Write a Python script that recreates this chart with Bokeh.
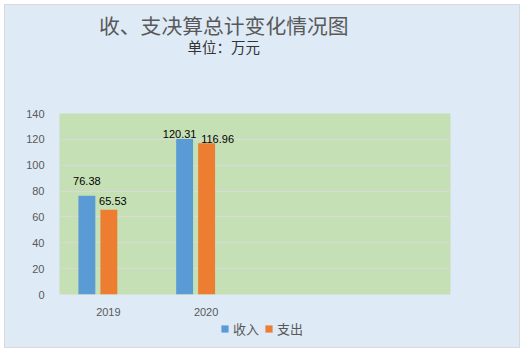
from bokeh.plotting import figure
from bokeh.layouts import column
from bokeh.models import (ColumnDataSource, LabelSet, Label, Legend, LegendItem,
                          FixedTicker, Range1d)
from bokeh.transform import dodge
from bokeh.core.properties import value
from bokeh.embed import file_html
from bokeh.resources import INLINE

# ---- data ----
years = ["2019", "2020"]
income = [76.38, 120.31]
expense = [65.53, 116.96]
series_names = ["收入", "支出"]
title_text = "收、支决算总计变化情况图"
subtitle_text = "单位：万元"
y_ticks = [0, 20, 40, 60, 80, 100, 120, 140]
n_slots = 4  # axis has 4 category slots, last two empty

# label nudges (px), as placed in the original
inc_dx = [0, -5]
inc_dy = [11, 1]
exp_dx = [4, 11]
exp_dy = [5, 0]

BLUE = "#5B9BD5"
ORANGE = "#ED7D31"
BG = "#DEEAF6"
PLOT_BG = "#C5E0B4"
GRID = "#D9D9D9"
TXT = "#595959"
CJK = "Noto Sans CJK SC"

W = 514
H_TOP, H_MAIN, H_LEG = 60, 253, 29


def strip(fig):
    fig.border_fill_color = BG
    fig.background_fill_color = BG
    fig.outline_line_color = None
    fig.grid.visible = False
    return fig


# ---- title strip ----
t = strip(figure(width=W, height=H_TOP, output_backend="svg", toolbar_location=None,
                 x_range=Range1d(0, W), y_range=Range1d(0, H_TOP),
                 x_axis_location=None, y_axis_location=None, min_border=0))
t.add_layout(Label(x=216, y=41, text=title_text, text_align="center",
                   text_baseline="middle", text_font=CJK, text_font_size="20.8px",
                   text_color=TXT))
t.add_layout(Label(x=216, y=19, text=subtitle_text, text_align="center",
                   text_baseline="middle", text_font=CJK, text_font_size="14.5px",
                   text_color="#333333"))

# ---- main chart ----
idx = list(range(len(years)))
src = ColumnDataSource(dict(
    idx=idx, income=income, expense=expense,
    inc_lbl=[f"{v:.2f}" for v in income],
    exp_lbl=[f"{v:.2f}" for v in expense],
    inc_dx=inc_dx, inc_dy=inc_dy, exp_dx=exp_dx, exp_dy=exp_dy,
))

p = figure(width=W, height=H_MAIN, output_backend="svg", toolbar_location=None,
           x_range=Range1d(-0.5, n_slots - 0.5), y_range=Range1d(0, 140),
           min_border_left=54, min_border_right=69, min_border_top=48,
           min_border_bottom=22)
p.border_fill_color = BG
p.background_fill_color = PLOT_BG
p.outline_line_color = None

bw = 0.173
p.vbar(x=dodge("idx", -0.22, range=p.x_range), top="income", width=bw,
       source=src, fill_color=BLUE, line_color=None)
p.vbar(x=dodge("idx", 0.005, range=p.x_range), top="expense", width=bw,
       source=src, fill_color=ORANGE, line_color=None)

lab_font = value("Liberation Sans")
p.add_layout(LabelSet(x=dodge("idx", -0.22, range=p.x_range), y="income",
                      text="inc_lbl", source=src, x_offset="inc_dx", y_offset="inc_dy",
                      text_align="center", text_baseline="alphabetic",
                      text_font=lab_font, text_font_size="11px", text_color="#000000"))
p.add_layout(LabelSet(x=dodge("idx", 0.005, range=p.x_range), y="expense",
                      text="exp_lbl", source=src, x_offset="exp_dx", y_offset="exp_dy",
                      text_align="center", text_baseline="alphabetic",
                      text_font=lab_font, text_font_size="11px", text_color="#000000"))

p.xaxis.ticker = FixedTicker(ticks=idx)
p.xaxis.major_label_overrides = {i: y for i, y in zip(idx, years)}
p.yaxis.ticker = FixedTicker(ticks=y_ticks)
for ax in (p.xaxis[0], p.yaxis[0]):
    ax.axis_line_color = None
    ax.major_tick_line_color = None
    ax.minor_tick_line_color = None
    ax.major_label_text_font = "Liberation Sans"
    ax.major_label_text_font_size = "11px"
    ax.major_label_text_color = TXT
p.yaxis.major_label_standoff = 9
p.xaxis.major_label_standoff = 7
p.xgrid.grid_line_color = None
p.ygrid.ticker = FixedTicker(ticks=y_ticks)
p.ygrid.grid_line_color = GRID
p.ygrid.grid_line_width = 1

# ---- legend strip (keys use hidden copies of the bar glyphs) ----
b = strip(figure(width=W, height=H_LEG, output_backend="svg", toolbar_location=None,
                 x_range=Range1d(0, 1), y_range=Range1d(0, 1),
                 x_axis_location=None, y_axis_location=None, min_border=0))
k1 = b.vbar(x="idx", top="income", width=bw, source=src,
            fill_color=BLUE, line_color=None, visible=False)
k2 = b.vbar(x="idx", top="expense", width=bw, source=src,
            fill_color=ORANGE, line_color=None, visible=False)
legend = Legend(items=[LegendItem(label=series_names[0], renderers=[k1]),
                       LegendItem(label=series_names[1], renderers=[k2])],
                orientation="horizontal", location=(161, 9),
                glyph_width=9, glyph_height=9, label_standoff=4, spacing=5,
                padding=0, margin=0, border_line_color=None,
                background_fill_alpha=0, inactive_fill_alpha=0,
                label_text_font=CJK, label_text_font_size="13px",
                label_text_color=TXT)
b.add_layout(legend)

lay = column(t, p, b, spacing=0)
lay.styles = {"margin-left": "4px", "margin-top": "4px",
              "border": "1px solid #D9D9D9", "background-color": BG}

open("out.html", "w").write(file_html(lay, INLINE))
